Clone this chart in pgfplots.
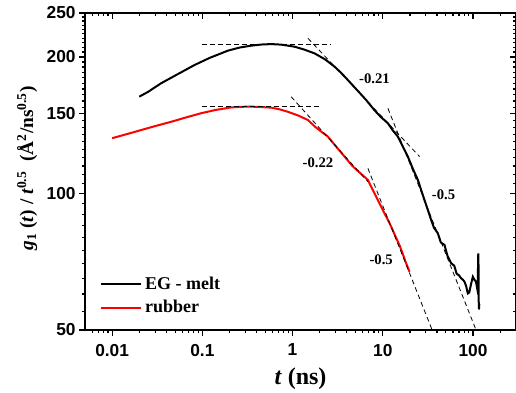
\documentclass[border=0pt]{standalone}
\usepackage{fontspec}
\setmainfont{Liberation Serif}
\setsansfont{Liberation Sans}
\usepackage{pgfplots}
\usepackage{pgfplotstable}
\pgfplotsset{compat=1.18}

\pgfplotstableread{
t v
0.020 163.5
0.025 167.5
0.0349 175.0
0.050 182.0
0.0819 192.0
0.120 199.0
0.192 206.5
0.260 209.8
0.348 211.8
0.450 213.0
0.579 213.5
0.750 212.9
1.05 210.7
1.35 207.6
1.75 203.7
2.30 197.5
2.92 190.4
3.50 184.0
4.10 177.9
5.20 169.0
6.55 160.7
8.00 153.0
9.50 147.5
11.4 142.8
13.0 137.5
14.7 133.5
16.8 126.5
18.97 120.6
21.5 113.5
24.5 107.1
27.0 101.0
29.0 96.7
31.6 92.0
34.4 87.4
37.0 84.0
40.8 81.7
44.0 78.0
48.4 77.0
52.0 73.0
57.3 70.2
62.0 69.3
66.0 66.5
70.0 66.0
73.9 65.0
77.0 64.6
80.5 63.9
84.0 62.5
87.7 60.2
91.0 60.5
95.0 63.0
99.7 65.5
104.0 64.5
108.0 63.9
111.0 62.0
113.0 64.0
114.5 73.8
115.3 69.0
115.8 58.0
116.5 55.5
117.5 57.0
}\blackdata

\pgfplotstableread{
t v
0.010 132.4
0.015 135.4
0.021 138.0
0.030 140.8
0.0451 143.9
0.065 147.0
0.097 150.3
0.140 152.8
0.208 154.8
0.280 155.3
0.348 155.4
0.450 155.1
0.579 154.6
0.720 153.3
0.887 151.4
1.15 148.6
1.48 145.2
1.80 140.0
2.08 136.9
2.46 133.5
3.00 127.3
3.77 120.6
4.60 115.0
5.60 111.0
6.84 107.1
7.80 101.5
8.83 96.7
10.0 92.0
11.4 87.4
12.4 84.5
13.8 80.5
15.3 77.0
16.5 74.0
18.0 70.5
19.8 67.2
}\reddata

\begin{document}
\begin{tikzpicture}
\begin{loglogaxis}[
    width=323.25pt, height=237.75pt, scale only axis,
    xmin=0.005, xmax=300, ymin=50, ymax=250,
    axis line style={line width=1.1pt},
    major tick length=4.5pt, minor tick length=2.6pt,
    every tick/.style={black, line width=0.9pt},
    xtick={0.01,0.1,1,10,100},
    minor xtick={0.006,0.007,0.008,0.009,0.02,0.03,0.04,0.05,0.06,0.07,0.08,0.09,0.2,0.3,0.4,0.5,0.6,0.7,0.8,0.9,2,3,4,5,6,7,8,9,20,30,40,50,60,70,80,90,200},
    ytick={50,100,150,200,250},
    minor ytick={55,60,65,70,75,80,85,90,95,105,110,115,120,125,130,135,140,145,155,160,165,170,175,180,185,190,195,205,210,215,220,225,230,235,240,245},
  xtick pos=right, ytick pos=right, tick align=inside,
  xticklabels={}, yticklabels={},
  tick label style={overlay},
]
\end{loglogaxis}
\begin{loglogaxis}[
    width=323.25pt, height=237.75pt, scale only axis,
    xmin=0.005, xmax=300, ymin=50, ymax=250,
    axis line style={line width=1.1pt},
    major tick length=4.5pt, minor tick length=2.6pt,
    every tick/.style={black, line width=0.9pt},
    xtick={0.01,0.1,1,10,100},
    minor xtick={0.006,0.007,0.008,0.009,0.02,0.03,0.04,0.05,0.06,0.07,0.08,0.09,0.2,0.3,0.4,0.5,0.6,0.7,0.8,0.9,2,3,4,5,6,7,8,9,20,30,40,50,60,70,80,90,200},
    ytick={50,100,150,200,250},
    minor ytick={55,60,65,70,75,80,85,90,95,105,110,115,120,125,130,135,140,145,155,160,165,170,175,180,185,190,195,205,210,215,220,225,230,235,240,245},
  xtick pos=left, ytick pos=left, tick align=outside,
  xticklabels={0.01,0.1,1,10,100},
  yticklabels={50,100,150,200,250},
  tick label style={font=\fontsize{13}{15}\selectfont\sffamily\bfseries},
  xticklabel style={yshift=-2.5pt},
  yticklabel style={xshift=1pt},
  /pgf/number format/assume math mode=true,
  xlabel={\textbf{\textit{t} (ns)}},
  ylabel={\textbf{\textit{g}\textsubscript{1} (\textit{t}) / \textit{t}\textsuperscript{0.5}\ \ (Å\textsuperscript{2}/ns\textsuperscript{0.5})}},
  xlabel style={font=\fontsize{18}{20}\selectfont, at={(axis description cs:0.5,-0.104)}, anchor=north},
  ylabel style={font=\fontsize{14.5}{17}\selectfont, at={(axis description cs:-0.0998,0.51)}, anchor=south},
  legend style={at={(rel axis cs:0.026,0.03)}, anchor=south west, draw=none, fill=none,
    font=\fontsize{13.5}{15}\selectfont\bfseries, row sep=3pt},
  legend cell align=left,
  legend image code/.code={\draw[#1] (0pt,0pt) -- (30pt,0pt);},
]
\addplot[black, line width=1.5pt] table {\blackdata};
\addlegendentry{EG - melt}
\addplot[red, line width=1.5pt] table {\reddata};
\addlegendentry{rubber}

\addplot[black, line width=0.6pt, dash pattern=on 3.5pt off 2.5pt, forget plot] coordinates {(0.1,213.3) (2.7,213.3)};
\addplot[black, line width=0.6pt, dash pattern=on 3.5pt off 2.5pt, forget plot] coordinates {(0.1,155.4) (2.0,155.4)};
\addplot[black, line width=0.6pt, dash pattern=on 3.5pt off 2.5pt, forget plot] coordinates {(1.48,219.9) (25.6,120.6)};
\addplot[black, line width=0.6pt, dash pattern=on 3.5pt off 2.5pt, forget plot] coordinates {(11.4,154.1) (115,48.5)};
\addplot[black, line width=0.6pt, dash pattern=on 3.5pt off 2.5pt, forget plot] coordinates {(0.965,163.4) (6.84,106.2)};
\addplot[black, line width=0.6pt, dash pattern=on 3.5pt off 2.5pt, forget plot] coordinates {(6.84,113.6) (36,49.5)};

\node[font=\fontsize{11}{13}\selectfont\bfseries] at (axis cs:8.1,179.5) {-0.21};
\node[font=\fontsize{11}{13}\selectfont\bfseries] at (axis cs:1.91,116.9) {-0.22};
\node[font=\fontsize{11}{13}\selectfont\bfseries] at (axis cs:47.2,99.6) {-0.5};
\node[font=\fontsize{11}{13}\selectfont\bfseries] at (axis cs:9.6,71.3) {-0.5};
\end{loglogaxis}
\pgfresetboundingbox
\path[use as bounding box] ([xshift=-63.75pt,yshift=-46.5pt]current axis.south west) rectangle ([yshift=9.75pt]current axis.north east);
\end{tikzpicture}
\end{document}
